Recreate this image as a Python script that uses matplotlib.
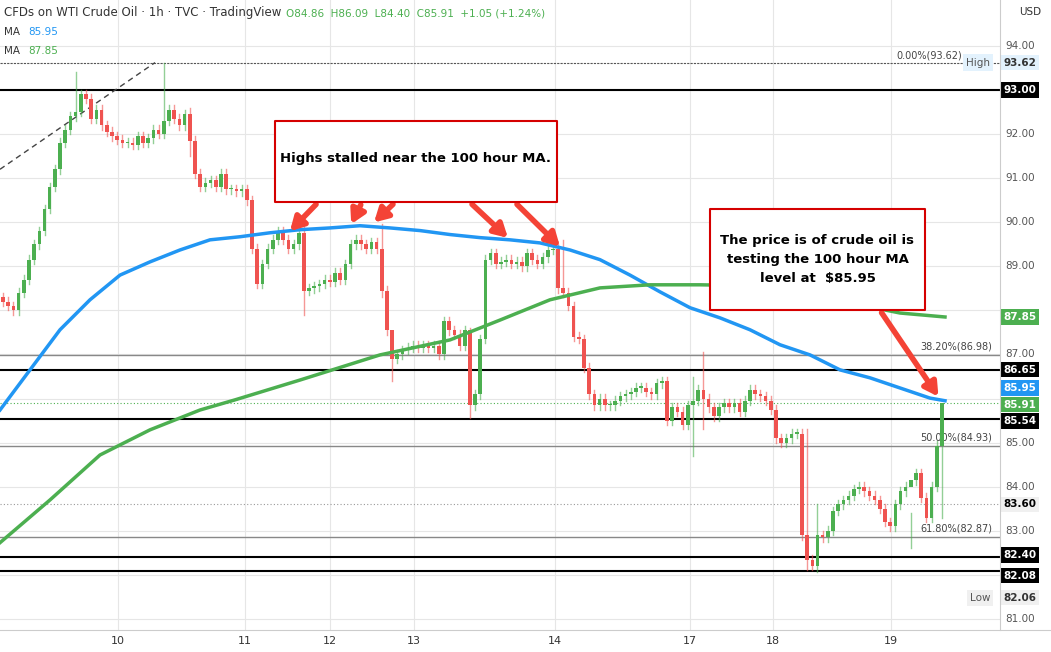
import numpy as np
import matplotlib.pyplot as plt
from matplotlib.patches import Rectangle

# hourly closes
closes = [88.2, 88.1, 88.0, 88.4, 88.7, 89.15, 89.5, 89.8, 90.3, 90.8, 91.2, 91.8, 92.1, 92.4, 92.5,
          92.9, 92.8, 92.35, 92.55, 92.2, 92.05, 91.95, 91.87, 91.8, 91.8, 91.75, 91.95, 91.8, 91.9, 92.1,
          92.0, 92.3, 92.55, 92.35, 92.2, 92.45, 91.85, 91.1, 90.8, 90.9, 90.95, 90.8, 91.1, 90.75, 90.75,
          90.7, 90.75, 90.5, 89.4, 88.6, 89.05, 89.4, 89.6, 89.8, 89.6, 89.4, 89.5, 89.75, 88.45, 88.5,
          88.55, 88.6, 88.7, 88.65, 88.85, 88.7, 89.05, 89.5, 89.6, 89.5, 89.4, 89.55, 89.4, 88.45, 87.55,
          86.9, 87.0, 87.1, 87.15, 87.2, 87.15, 87.2, 87.15, 87.2, 87.0, 87.75, 87.55, 87.45, 87.2, 87.55,
          85.85, 86.1, 87.35, 89.15, 89.3, 89.05, 89.1, 89.15, 89.05, 89.1, 89.0, 89.3, 89.15, 89.05, 89.2,
          89.37, 89.4, 88.5, 88.4, 88.1, 87.4, 87.35, 86.7, 86.1, 85.85, 86.0, 85.85, 85.85, 85.95, 86.05,
          86.1, 86.15, 86.25, 86.25, 86.15, 86.1, 86.35, 86.4, 85.5, 85.8, 85.7, 85.4, 85.85, 85.95, 86.2,
          86.0, 85.8, 85.6, 85.8, 85.9, 85.8, 85.9, 85.7, 85.95, 86.2, 86.1, 86.05, 85.95, 85.75, 85.1,
          85.0, 85.1, 85.2, 85.2, 82.9, 82.34, 82.2, 82.9, 82.85, 83.0, 83.45, 83.6, 83.7, 83.8, 83.95,
          84.0, 83.9, 83.8, 83.7, 83.5, 83.2, 83.1, 83.6, 83.9, 84.0, 84.15, 84.3, 83.75, 83.3, 84.0,
          84.93, 85.91]
first_open = 88.3
# notable wicks: index -> (high, low)
spikes = {14: (93.4, 92.3), 31: (93.62, 91.9), 36: (92.6, 91.5), 58: (89.9, 87.9), 73: (89.95, 88.3),
          75: (87.3, 86.4), 90: (87.6, 85.55), 108: (89.6, 88.3), 133: (86.5, 84.7), 135: (87.05, 85.3),
          155: (85.3, 82.1), 157: (83.6, 82.06), 175: (83.4, 82.6), 181: (85.1, 83.3), 182: (86.09, 84.4)}

ma100_px = [0, 30, 60, 90, 120, 150, 180, 210, 240, 270, 300, 330, 360, 390, 420, 450, 480, 510,
            540, 570, 600, 630, 660, 690, 720, 750, 780, 810, 840, 870, 900, 930, 945]
ma100 = [85.74, 86.65, 87.56, 88.24, 88.80, 89.10, 89.37, 89.60, 89.67, 89.76, 89.83, 89.87, 89.92,
         89.87, 89.81, 89.72, 89.65, 89.60, 89.53, 89.37, 89.15, 88.80, 88.42, 88.06, 87.83, 87.56,
         87.22, 86.99, 86.65, 86.47, 86.24, 86.01, 85.95]
ma200_px = [0, 50, 100, 150, 200, 235, 300, 380, 450, 500, 550, 600, 650, 700, 750, 800, 850, 900, 945]
ma200 = [82.73, 83.70, 84.72, 85.29, 85.74, 85.97, 86.42, 86.99, 87.33, 87.78, 88.24, 88.51, 88.58,
         88.58, 88.56, 88.40, 88.17, 87.94, 87.85]

day_px = [118, 245, 330, 414, 555, 690, 773, 891]
day_labels = ["10", "11", "12", "13", "14", "17", "18", "19"]
price_ticks = np.arange(81, 95)

black_lines = [93.00, 86.65, 85.54, 82.40, 82.08]
fib_lines = [(86.98, "38.20%(86.98)"), (84.93, "50.00%(84.93)"), (82.87, "61.80%(82.87)")]

GREEN = "#4caf50"
RED = "#ef5350"
BLUE = "#2196f3"

fig = plt.figure(figsize=(10.51, 6.52), dpi=100)
ax = fig.add_axes([0, 22 / 652, 1000 / 1051, 630 / 652])
ax.set_xlim(0, 1000)
ax.set_ylim(80.75, 95.04)
for s in ax.spines.values():
    s.set_visible(False)
ax.set_xticks([]); ax.set_yticks([])
for xp in day_px:
    ax.axvline(xp, color="#e6e6e6", lw=0.8, zorder=0)
for p in price_ticks:
    ax.axhline(p, color="#e6e6e6", lw=0.8, zorder=0)

# candles
n = len(closes)
xs = np.linspace(3, 942, n)
opens = [first_open] + closes[:-1]
for i in range(n):
    o, c = opens[i], closes[i]
    hi, lo = spikes.get(i, (max(o, c) + 0.1, min(o, c) - 0.1))
    col = GREEN if c >= o else RED
    ax.plot([xs[i], xs[i]], [lo, hi], color=col, lw=1, alpha=0.6, zorder=3)
    ax.bar(xs[i], max(abs(c - o), 0.03), bottom=min(o, c), width=3.6, color=col, zorder=4)

ax.plot(ma100_px, ma100, color=BLUE, lw=2.5, zorder=5)
ax.plot(ma200_px, ma200, color=GREEN, lw=2.5, zorder=5)

for y in black_lines:
    ax.axhline(y, color="black", lw=1.5, zorder=2)
for y, lab in fib_lines:
    ax.axhline(y, color="#888888", lw=1, zorder=2)
    ax.text(992, y + 0.08, lab, ha="right", va="bottom", fontsize=7, color="#444444")
ax.axhline(93.62, color="#555555", lw=0.8, ls=(0, (2, 1)), zorder=2)
ax.text(962, 93.66, "0.00%(93.62)", ha="right", va="bottom", fontsize=7, color="#444444")
ax.axhline(85.91, color=GREEN, lw=0.8, ls=(0, (1, 2)), zorder=2)
ax.axhline(83.60, color="#999999", lw=0.8, ls=(0, (1, 2)), zorder=2)
ax.plot([0, 155], [91.2, 93.62], color="#444444", lw=1, ls=(0, (4, 3)), zorder=2)

# annotations
def callout(x0, y0, x1, y1, text, ty, targets, tail):
    ax.add_patch(Rectangle((x0, y0), x1 - x0, y1 - y0, fc="white", ec="#d50000", lw=1.5,
                           joinstyle="round", zorder=7))
    ax.text((x0 + x1) / 2, ty, text, ha="center", va="center", fontsize=9.5,
            fontweight="bold", zorder=8, linespacing=1.6)
    for (tx, tyy), (sx, sy) in zip(targets, tail):
        ax.annotate("", xy=(tx, tyy), xytext=(sx, sy),
                    arrowprops=dict(arrowstyle="-|>,head_length=0.8,head_width=0.45",
                                    color="#f44336", lw=4), zorder=6)

callout(275, 90.45, 557, 92.3, "Highs stalled near the 100 hour MA.", 91.45,
        [(288, 89.75), (350, 89.9), (372, 89.95), (510, 89.6), (562, 89.4)],
        [(318, 90.45), (362, 90.45), (395, 90.45), (470, 90.45), (515, 90.45)])
callout(710, 88.0, 925, 90.3, "The price is of crude oil is\ntesting the 100 hour MA\nlevel at  $85.95", 89.15,
        [(940, 85.99)], [(880, 88.0)])

# header text
fig.text(0.004, 0.975, "CFDs on WTI Crude Oil · 1h · TVC · TradingView", fontsize=8.5, color="#333333")
fig.text(0.272, 0.975, "O84.86  H86.09  L84.40  C85.91  +1.05 (+1.24%)", fontsize=7.5, color=GREEN)
fig.text(0.004, 0.946, "MA", fontsize=7.5, color="#333333")
fig.text(0.027, 0.946, "85.95", fontsize=7.5, color=BLUE)
fig.text(0.004, 0.917, "MA", fontsize=7.5, color="#333333")
fig.text(0.027, 0.917, "87.85", fontsize=7.5, color=GREEN)

# right price scale
fig.add_artist(plt.Line2D([1000 / 1051] * 2, [22 / 652, 1], color="#cccccc", lw=0.8))
fig.text(1030 / 1051, 0.982, "USD", ha="center", va="center", fontsize=7.5, color="#333333")
tags = [(93.62, "#e3f2fd", "#333333"), (93.00, "black", "white"), (87.85, GREEN, "white"),
        (86.65, "black", "white"), (85.95, BLUE, "white"), (85.91, GREEN, "white"),
        (85.54, "black", "white"), (83.60, "#f0f0f0", "black"), (82.40, "black", "white"),
        (82.08, "black", "white"), (82.06, "#f0f0f0", "#333333")]
offs = {85.95: 0.29, 85.91: -0.05, 85.54: -0.05, 82.40: 0.05, 82.08: -0.1, 82.06: -0.58}
tag_pos = [v + offs.get(v, 0) for v, _, _ in tags]
for p in price_ticks:
    if min(abs(p - t) for t in tag_pos) > 0.3:
        ax.text(1020, p, f"{p:.2f}", ha="center", va="center", fontsize=7.5, color="#555555", clip_on=False)
for (v, bg, fg), yp in zip(tags, tag_pos):
    ax.text(1020, yp, f"{v:.2f}", ha="center", va="center", fontsize=7.5, color=fg,
            fontweight="bold", clip_on=False, zorder=9,
            bbox=dict(boxstyle="square,pad=0.25", fc=bg, ec="none"))
ax.text(978, 93.62, "High", ha="center", va="center", fontsize=7.5, color="#555555",
        bbox=dict(boxstyle="square,pad=0.3", fc="#e3f2fd", ec="none"), zorder=9)
ax.text(980, 82.06 - 0.58, "Low", ha="center", va="center", fontsize=7.5, color="#555555",
        bbox=dict(boxstyle="square,pad=0.3", fc="#f0f0f0", ec="none"), zorder=9)

# time axis
fig.add_artist(plt.Line2D([0, 1], [22 / 652] * 2, color="#cccccc", lw=0.8))
for xp, lab in zip(day_px, day_labels):
    fig.text(xp / 1051, 11 / 652, lab, ha="center", va="center", fontsize=8, color="#333333")

fig.savefig("out.png", dpi=100)
